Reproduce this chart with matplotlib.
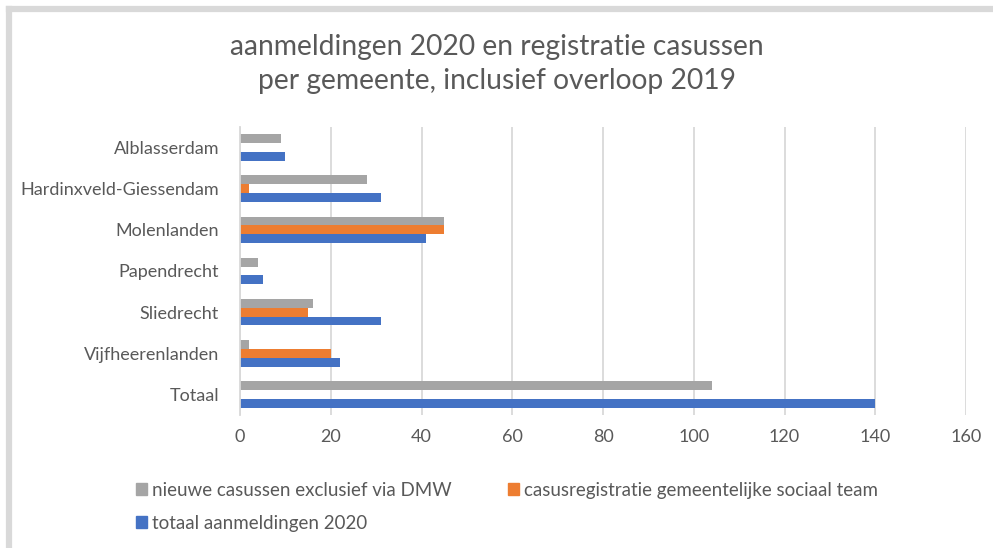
import numpy as np
import matplotlib.pyplot as plt
from matplotlib.lines import Line2D
from matplotlib.patches import Patch

# data
gemeenten = ['Alblasserdam', 'Hardinxveld-Giessendam', 'Molenlanden',
             'Papendrecht', 'Sliedrecht', 'Vijfheerenlanden', 'Totaal']
nieuw_dmw = [9, 28, 45, 4, 16, 2, 104]
sociaal_team = [0, 2, 45, 0, 15, 20, 0]
totaal_2020 = [10, 31, 41, 5, 31, 22, 140]
x_ticks = [0, 20, 40, 60, 80, 100, 120, 140, 160]

grey = '#a5a5a5'
orange = '#ed7d31'
blue = '#4472c4'
text_col = '#595959'

plt.rcParams['font.family'] = ['Lato', 'DejaVu Sans']

fig = plt.figure(figsize=(9.93, 5.48), dpi=100)
ax = fig.add_axes([240 / 993, 1 - 415 / 548, (966 - 240) / 993, (415 - 127) / 548])

y = np.arange(len(gemeenten))
h = 0.215
ax.barh(y - h, nieuw_dmw, height=h, color=grey)
ax.barh(y, sociaal_team, height=h, color=orange)
ax.barh(y + h, totaal_2020, height=h, color=blue)

ax.set_ylim(len(gemeenten) - 0.5, -0.5)
ax.set_xlim(0, 160)
ax.set_yticks(y)
ax.set_yticklabels(gemeenten, fontsize=13, color=text_col)
ax.set_xticks(x_ticks)
ax.set_xticklabels([str(v) for v in x_ticks], fontsize=13, color=text_col)
ax.tick_params(axis='y', length=0, pad=15)
ax.tick_params(axis='x', length=0, pad=10)
ax.grid(axis='x', color='#d9d9d9', linewidth=1.3)
ax.set_axisbelow(True)
for s in ['top', 'right', 'bottom']:
    ax.spines[s].set_visible(False)
ax.spines['left'].set_color('#d9d9d9')
ax.spines['left'].set_linewidth(1.3)

fig.text(0.5, 1 - 64 / 548, 'aanmeldingen 2020 en registratie casussen\nper gemeente, inclusief overloop 2019',
         ha='center', va='center', fontsize=20.3, color=text_col, linespacing=1.35)

# legend, row-major order
handles = [Patch(color=grey), Patch(color=blue), Patch(color=orange)]
labels = ['nieuwe casussen exclusief via DMW', 'totaal aanmeldingen 2020',
          'casusregistratie gemeentelijke sociaal team']
fig.legend(handles, labels, ncol=2, loc='upper left', bbox_to_anchor=(119 / 993, 1 - 465 / 548),
           frameon=False, fontsize=13.5, labelcolor=text_col, handlelength=0.6, handleheight=0.6,
           handletextpad=0.25, columnspacing=3.0, labelspacing=0.85)

# grey frame, only top and left edges visible
fig.add_artist(Line2D([9 / 993, 1], [1 - 9 / 548, 1 - 9 / 548], transform=fig.transFigure,
                      color='#d9d9d9', linewidth=4.5))
fig.add_artist(Line2D([9 / 993, 9 / 993], [0, 1 - 9 / 548], transform=fig.transFigure,
                      color='#d9d9d9', linewidth=4.5))

fig.savefig('out.png', dpi=100)
